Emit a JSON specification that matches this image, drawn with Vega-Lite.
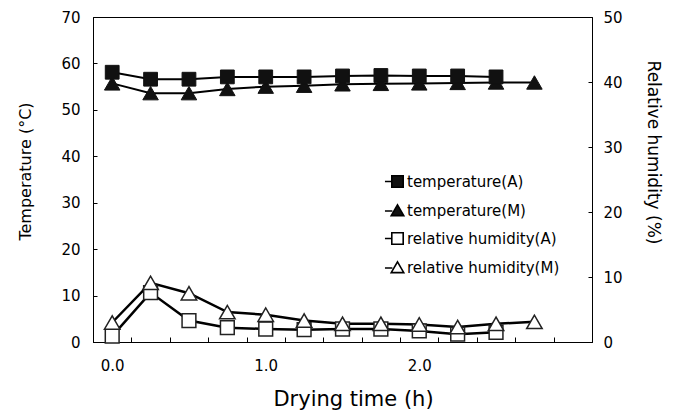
{
  "$schema": "https://vega.github.io/schema/vega-lite/v6.json",
  "width": 499,
  "height": 325,
  "autosize": {"type": "none"},
  "padding": {"left": 93, "top": 17, "right": 81, "bottom": 69},
  "background": "white",
  "config": {
    "font": "DejaVu Sans",
    "view": {"stroke": "#000", "strokeWidth": 1},
    "axis": {
      "grid": false,
      "domainColor": "#000",
      "tickColor": "#000",
      "labelColor": "#000",
      "titleColor": "#000",
      "labelFont": "DejaVu Sans",
      "titleFont": "DejaVu Sans",
      "labelFontSize": 15,
      "titleFontWeight": "normal"
    },
    "legend": {
      "title": null,
      "orient": "none",
      "legendX": 297,
      "legendY": 157,
      "padding": 0,
      "symbolSize": 130,
      "symbolStrokeColor": "#000",
      "symbolStrokeWidth": 1.6,
      "labelFont": "DejaVu Sans",
      "labelFontSize": 15,
      "labelColor": "#000",
      "labelOffset": 2,
      "labelLimit": 0,
      "rowPadding": 10
    }
  },
  "datasets": {
    "d": [
      {"time": 0, "series": "temperature(A)", "value": 58.1},
      {"time": 0.25, "series": "temperature(A)", "value": 56.6},
      {"time": 0.5, "series": "temperature(A)", "value": 56.6},
      {"time": 0.75, "series": "temperature(A)", "value": 57.1},
      {"time": 1, "series": "temperature(A)", "value": 57.1},
      {"time": 1.25, "series": "temperature(A)", "value": 57.1},
      {"time": 1.5, "series": "temperature(A)", "value": 57.3},
      {"time": 1.75, "series": "temperature(A)", "value": 57.4},
      {"time": 2, "series": "temperature(A)", "value": 57.3},
      {"time": 2.25, "series": "temperature(A)", "value": 57.3},
      {"time": 2.5, "series": "temperature(A)", "value": 57.1},
      {"time": 0, "series": "temperature(M)", "value": 55.7},
      {"time": 0.25, "series": "temperature(M)", "value": 53.6},
      {"time": 0.5, "series": "temperature(M)", "value": 53.6},
      {"time": 0.75, "series": "temperature(M)", "value": 54.5},
      {"time": 1, "series": "temperature(M)", "value": 55.0},
      {"time": 1.25, "series": "temperature(M)", "value": 55.2},
      {"time": 1.5, "series": "temperature(M)", "value": 55.5},
      {"time": 1.75, "series": "temperature(M)", "value": 55.6},
      {"time": 2, "series": "temperature(M)", "value": 55.7},
      {"time": 2.25, "series": "temperature(M)", "value": 55.8},
      {"time": 2.5, "series": "temperature(M)", "value": 55.9},
      {"time": 2.75, "series": "temperature(M)", "value": 55.9},
      {"time": 0, "series": "relative humidity(A)", "value": 0.9},
      {"time": 0.25, "series": "relative humidity(A)", "value": 7.6},
      {"time": 0.5, "series": "relative humidity(A)", "value": 3.3},
      {"time": 0.75, "series": "relative humidity(A)", "value": 2.2},
      {"time": 1, "series": "relative humidity(A)", "value": 2.0},
      {"time": 1.25, "series": "relative humidity(A)", "value": 1.9},
      {"time": 1.5, "series": "relative humidity(A)", "value": 2.0},
      {"time": 1.75, "series": "relative humidity(A)", "value": 2.0},
      {"time": 2, "series": "relative humidity(A)", "value": 1.7},
      {"time": 2.25, "series": "relative humidity(A)", "value": 1.2},
      {"time": 2.5, "series": "relative humidity(A)", "value": 1.5},
      {"time": 0, "series": "relative humidity(M)", "value": 3.0},
      {"time": 0.25, "series": "relative humidity(M)", "value": 9.1},
      {"time": 0.5, "series": "relative humidity(M)", "value": 7.5},
      {"time": 0.75, "series": "relative humidity(M)", "value": 4.6},
      {"time": 1, "series": "relative humidity(M)", "value": 4.2},
      {"time": 1.25, "series": "relative humidity(M)", "value": 3.3},
      {"time": 1.5, "series": "relative humidity(M)", "value": 2.8},
      {"time": 1.75, "series": "relative humidity(M)", "value": 2.8},
      {"time": 2, "series": "relative humidity(M)", "value": 2.7},
      {"time": 2.25, "series": "relative humidity(M)", "value": 2.3},
      {"time": 2.5, "series": "relative humidity(M)", "value": 2.8},
      {"time": 2.75, "series": "relative humidity(M)", "value": 3.1}
    ]
  },
  "data": {"name": "d"},
  "encoding": {
    "x": {
      "field": "time",
      "type": "ordinal",
      "bandPosition": 0.5,
      "scale": {"type": "band", "domain": [0, 0.25, 0.5, 0.75, 1, 1.25, 1.5, 1.75, 2, 2.25, 2.5, 2.75, 3], "paddingInner": 0, "paddingOuter": 0},
      "axis": {
        "title": "Drying time (h)",
        "titleFontSize": 21,
        "titlePadding": 15,
        "titleX": 260,
        "labelAngle": 0,
        "labelExpr": "datum.value % 1 === 0 && datum.value < 3 ? format(datum.value, '.1f') : ''",
        "tickBand": "extent",
        "tickSize": -5,
        "labelPadding": 21,
        "labelOverlap": false
      }
    }
  },
  "layer": [
    {
      "encoding": {
        "y": {
          "field": "value",
          "type": "quantitative",
          "scale": {"domain": [0, 70], "nice": false},
          "axis": {
            "orient": "left",
            "values": [0, 10, 20, 30, 40, 50, 60, 70],
            "title": "Temperature (°C)",
            "titleFontSize": 16,
            "titlePadding": 27,
            "titleY": 154,
            "tickSize": -4,
            "labelPadding": 17
          }
        }
      },
      "layer": [
        {
          "transform": [{"filter": "datum.series === 'temperature(A)'"}],
          "mark": {"type": "line", "color": "#000", "strokeWidth": 2}
        },
        {
          "transform": [{"filter": "datum.series === 'temperature(M)'"}],
          "mark": {"type": "line", "color": "#000", "strokeWidth": 2}
        },
        {
          "transform": [{"filter": "datum.series === 'temperature(M)'"}],
          "mark": {"type": "point", "shape": "triangle-up", "filled": true, "fill": "#111", "stroke": "#111", "strokeWidth": 1, "size": 240, "opacity": 1}
        },
        {
          "transform": [{"filter": "datum.series === 'temperature(A)'"}],
          "mark": {"type": "point", "shape": "square", "filled": true, "fill": "#111", "stroke": "#111", "strokeWidth": 1, "size": 190, "opacity": 1}
        }
      ]
    },
    {
      "encoding": {
        "y": {
          "field": "value",
          "type": "quantitative",
          "scale": {"domain": [0, 50], "nice": false},
          "axis": {
            "orient": "right",
            "values": [0, 10, 20, 30, 40, 50],
            "title": "Relative humidity (%)",
            "titleFontSize": 17,
            "titlePadding": 21,
            "titleY": 135,
            "tickSize": -4,
            "labelPadding": 15
          }
        }
      },
      "layer": [
        {
          "transform": [{"filter": "datum.series === 'relative humidity(A)'"}],
          "mark": {"type": "line", "color": "#000", "strokeWidth": 2.5}
        },
        {
          "transform": [{"filter": "datum.series === 'relative humidity(M)'"}],
          "mark": {"type": "line", "color": "#000", "strokeWidth": 2.5}
        },
        {
          "transform": [{"filter": "datum.series === 'relative humidity(A)'"}],
          "mark": {"type": "point", "shape": "square", "filled": true, "fill": "#fff", "stroke": "#222", "strokeWidth": 1.5, "size": 190, "opacity": 1}
        },
        {
          "transform": [{"filter": "datum.series === 'relative humidity(M)'"}],
          "mark": {"type": "point", "shape": "triangle-up", "filled": true, "fill": "#fff", "stroke": "#222", "strokeWidth": 1.5, "size": 240, "opacity": 1}
        }
      ]
    },
    {
      "data": {"values": []},
      "mark": {"type": "point", "filled": true, "strokeWidth": 1.6, "opacity": 1},
      "encoding": {
        "shape": {
          "field": "series",
          "type": "nominal",
          "scale": {
            "domain": ["temperature(A)", "temperature(M)", "relative humidity(A)", "relative humidity(M)"],
            "range": [
              "M-2.2,0H-1M-1,-1H1V1H-1Z",
              "M-2.2,0.1H-0.9M0,-1L1.1,0.9L-1.1,0.9Z",
              "M-2.2,0H-1M-1,-1H1V1H-1Z",
              "M-2.2,0.1H-0.9M0,-1L1.1,0.9L-1.1,0.9Z"
            ]
          }
        },
        "fill": {
          "field": "series",
          "type": "nominal",
          "scale": {
            "domain": ["temperature(A)", "temperature(M)", "relative humidity(A)", "relative humidity(M)"],
            "range": ["#111", "#111", "#fff", "#fff"]
          }
        },
        "stroke": {
          "field": "series",
          "type": "nominal",
          "scale": {
            "domain": ["temperature(A)", "temperature(M)", "relative humidity(A)", "relative humidity(M)"],
            "range": ["#000", "#000", "#000", "#000"]
          }
        }
      }
    }
  ],
  "resolve": {"scale": {"y": "independent"}, "axis": {"y": "independent"}}
}
